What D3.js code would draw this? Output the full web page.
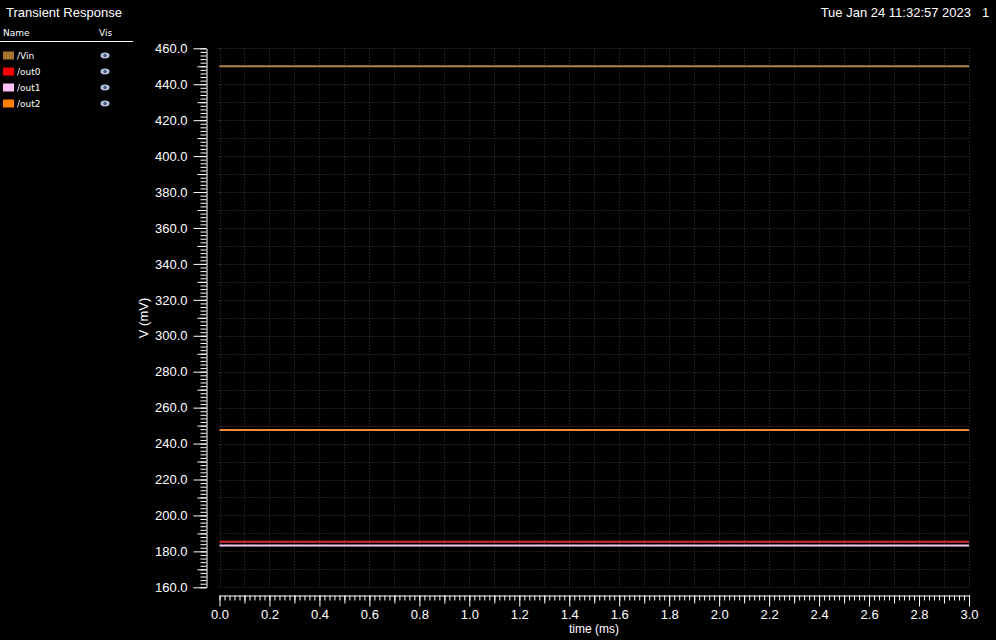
<!doctype html>
<html>
<head>
<meta charset="utf-8">
<title>Transient Response</title>
<script src="https://cdnjs.cloudflare.com/ajax/libs/d3/7.8.5/d3.min.js"></script>
<style>
  html, body { margin: 0; padding: 0; background: #000; }
  svg { display: block; font-family: 'Liberation Sans', Arial, sans-serif; }
  .legend text { font-family: 'DejaVu Sans', sans-serif; font-size: 9px; fill: #fff; }
  .axis text { fill: #fff; font-size: 13px; }
  .axis path, .axis line { stroke: #fff; }
</style>
</head>
<body>
<div id="chart"></div>
<script>
// series shown in the waveform window
var names = ["/Vin", "/out0", "/out1", "/out2"];
var levels = [450.0, 185.4, 183.2, 247.6];   // mV, flat over the whole run
var lineColors = ["#b2844a", "#d62c2c", "#f8ccf4", "#f08a3c"];
var swatchColors = ["#a8742e", "#ff0000", "#ffc0f4", "#ff8000"];
var times = [0, 3.0];                         // ms
var xTicks = [0, 0.2, 0.4, 0.6, 0.8, 1.0, 1.2, 1.4, 1.6, 1.8, 2.0, 2.2, 2.4, 2.6, 2.8, 3.0];
var yTicks = [160, 180, 200, 220, 240, 260, 280, 300, 320, 340, 360, 380, 400, 420, 440, 460];

var width = 996, height = 640;
var svg = d3.select("#chart").append("svg").attr("width", width).attr("height", height);
svg.append("rect").attr("width", width).attr("height", height).attr("fill", "#000");

var x = d3.scaleLinear([0, 3], [219.5, 969]);
var y = d3.scaleLinear([160, 460], [587.3, 48.3]);

// header
svg.append("text").attr("x", 6).attr("y", 17).attr("fill", "#fff").attr("font-size", 13).text("Transient Response");
svg.append("text").attr("x", 971).attr("y", 17).attr("fill", "#fff").attr("font-size", 13)
  .attr("text-anchor", "end").text("Tue Jan 24 11:32:57 2023");
svg.append("text").attr("x", 982).attr("y", 17).attr("fill", "#fff").attr("font-size", 13).text("1");

// legend
var legend = svg.append("g").attr("class", "legend");
legend.append("text").attr("x", 3).attr("y", 36).text("Name");
legend.append("text").attr("x", 99).attr("y", 36).text("Vis");
legend.append("line").attr("x1", 0).attr("x2", 133).attr("y1", 41.5).attr("y2", 41.5).attr("stroke", "#fff");
var rows = legend.selectAll("g.row").data(names).join("g").attr("class", "row")
  .attr("transform", (d, i) => `translate(0,${55.5 + i * 16})`);
rows.append("rect").attr("x", 3).attr("y", -4).attr("width", 11).attr("height", 8)
  .attr("fill", (d, i) => swatchColors[i]);
rows.append("text").attr("x", 17).attr("y", 3.5).text(d => d);
rows.append("ellipse").attr("cx", 105).attr("cy", 0).attr("rx", 4.5).attr("ry", 3).attr("fill", "#b8c4e0");
rows.append("circle").attr("cx", 105).attr("cy", 0).attr("r", 1.7).attr("fill", "#44557a");

// dotted grid
var grid = svg.append("g").attr("class", "grid");
grid.selectAll("line.v").data(d3.range(0, 31).map(i => i / 10)).join("line").attr("class", "v")
  .attr("x1", d => Math.round(x(d)) + 0.5).attr("x2", d => Math.round(x(d)) + 0.5)
  .attr("y1", y(460)).attr("y2", y(160))
  .attr("stroke", "#3e3e3e").attr("stroke-dasharray", "1,2");
grid.selectAll("line.h").data(d3.range(160, 461, 10)).join("line").attr("class", "h")
  .attr("x1", x(0) - 1).attr("x2", x(3))
  .attr("y1", d => Math.round(y(d)) + 0.5).attr("y2", d => Math.round(y(d)) + 0.5)
  .attr("stroke", "#3e3e3e").attr("stroke-dasharray", "1,2");

// axes: minor ticks first, then majors with labels
var yAxisG = svg.append("g").attr("class", "axis").attr("transform", "translate(206.5,0)");
yAxisG.append("g").call(d3.axisLeft(y).tickValues(d3.range(160, 461, 2)).tickSize(6).tickFormat("").tickSizeOuter(0))
  .select(".domain").remove();
yAxisG.append("g").call(d3.axisLeft(y).tickValues(d3.range(170, 461, 20)).tickSize(9).tickFormat("").tickSizeOuter(0))
  .select(".domain").remove();
yAxisG.append("g").call(d3.axisLeft(y).tickValues(yTicks).tickSize(13).tickPadding(6)
  .tickFormat(d3.format(".1f")).tickSizeOuter(0));

var xAxisG = svg.append("g").attr("class", "axis").attr("transform", "translate(0,595.5)");
xAxisG.append("g").call(d3.axisBottom(x).tickValues(d3.range(0, 151).map(i => i / 50)).tickSize(5).tickFormat("").tickSizeOuter(0))
  .select(".domain").remove();
xAxisG.append("g").call(d3.axisBottom(x).tickValues(d3.range(0, 15).map(i => 0.1 + i / 5)).tickSize(8).tickFormat("").tickSizeOuter(0))
  .select(".domain").remove();
xAxisG.append("g").call(d3.axisBottom(x).tickValues(xTicks).tickSize(11).tickPadding(3)
  .tickFormat(d3.format(".1f")).tickSizeOuter(0));

svg.append("text").attr("transform", "translate(148,318) rotate(-90)").attr("text-anchor", "middle")
  .attr("fill", "#fff").attr("font-size", 13).text("V (mV)");
svg.append("text").attr("x", 594).attr("y", 633).attr("text-anchor", "middle")
  .attr("fill", "#fff").attr("font-size", 12).text("time (ms)");

// traces
var line = d3.line().x(d => x(d.t)).y(d => y(d.v));
svg.append("g").selectAll("path").data(levels).join("path")
  .attr("d", v => line(times.map(t => ({ t: t, v: v }))))
  .attr("fill", "none").attr("stroke", (d, i) => lineColors[i]).attr("stroke-width", 2);
</script>
</body>
</html>
